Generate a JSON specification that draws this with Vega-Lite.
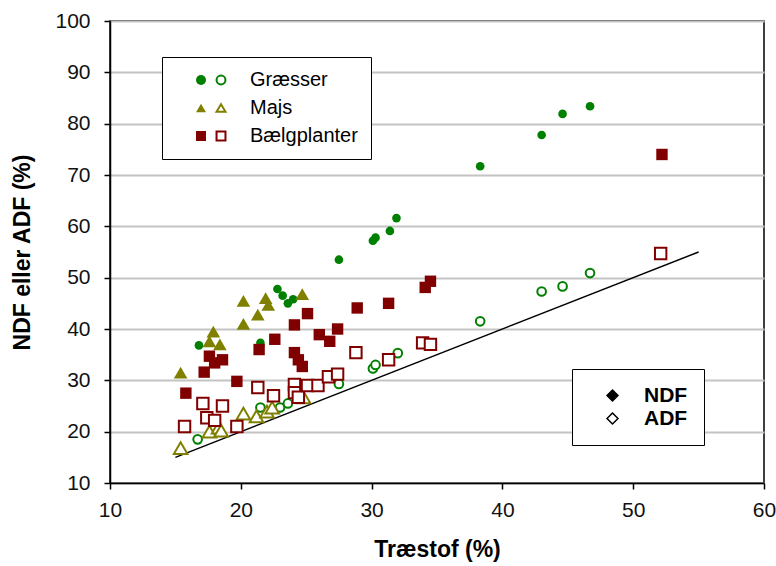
{
  "$schema": "https://vega.github.io/schema/vega-lite/v6.json",
  "width": 654,
  "height": 462,
  "autosize": "none",
  "padding": {"left": 110, "top": 21, "right": 12, "bottom": 83},
  "background": "white",
  "config": {
    "font": "Liberation Sans",
    "view": {"stroke": "#000", "strokeWidth": 1.5},
    "axis": {
      "labelFont": "Liberation Sans",
      "labelFontSize": 21,
      "labelColor": "#111",
      "titleFont": "Liberation Sans",
      "titleFontSize": 23,
      "titleFontWeight": "bold",
      "titleColor": "#000",
      "tickColor": "#000",
      "tickSize": 6,
      "tickWidth": 1.5,
      "domainColor": "#000",
      "domainWidth": 1.5,
      "labelFlush": false,
      "labelOverlap": false
    },
    "legend": {"labelFont": "Liberation Sans", "symbolBaseFillColor": "#fff"}
  },
  "datasets": {
    "linje": [
      {"Træstof": 15, "Værdi": 15},
      {"Træstof": 55, "Værdi": 55}
    ],
    "punkter": [
      {"Træstof": 16.8, "Værdi": 36.8, "Gruppe": "Græsser", "Type": "NDF"},
      {"Træstof": 21.5, "Værdi": 37.3, "Gruppe": "Græsser", "Type": "NDF"},
      {"Træstof": 22.8, "Værdi": 47.8, "Gruppe": "Græsser", "Type": "NDF"},
      {"Træstof": 23.2, "Værdi": 46.5, "Gruppe": "Græsser", "Type": "NDF"},
      {"Træstof": 23.6, "Værdi": 45.0, "Gruppe": "Græsser", "Type": "NDF"},
      {"Træstof": 24.0, "Værdi": 45.8, "Gruppe": "Græsser", "Type": "NDF"},
      {"Træstof": 27.5, "Værdi": 53.5, "Gruppe": "Græsser", "Type": "NDF"},
      {"Træstof": 30.1, "Værdi": 57.2, "Gruppe": "Græsser", "Type": "NDF"},
      {"Træstof": 30.3, "Værdi": 57.8, "Gruppe": "Græsser", "Type": "NDF"},
      {"Træstof": 31.4, "Værdi": 59.1, "Gruppe": "Græsser", "Type": "NDF"},
      {"Træstof": 31.9, "Værdi": 61.6, "Gruppe": "Græsser", "Type": "NDF"},
      {"Træstof": 38.3, "Værdi": 71.7, "Gruppe": "Græsser", "Type": "NDF"},
      {"Træstof": 43.0, "Værdi": 77.8, "Gruppe": "Græsser", "Type": "NDF"},
      {"Træstof": 44.6, "Værdi": 81.9, "Gruppe": "Græsser", "Type": "NDF"},
      {"Træstof": 46.7, "Værdi": 83.4, "Gruppe": "Græsser", "Type": "NDF"},
      {"Træstof": 16.7, "Værdi": 18.5, "Gruppe": "Græsser", "Type": "ADF"},
      {"Træstof": 21.5, "Værdi": 24.7, "Gruppe": "Græsser", "Type": "ADF"},
      {"Træstof": 23.0, "Værdi": 24.7, "Gruppe": "Græsser", "Type": "ADF"},
      {"Træstof": 23.6, "Værdi": 25.5, "Gruppe": "Græsser", "Type": "ADF"},
      {"Træstof": 27.5, "Værdi": 29.3, "Gruppe": "Græsser", "Type": "ADF"},
      {"Træstof": 30.1, "Værdi": 32.3, "Gruppe": "Græsser", "Type": "ADF"},
      {"Træstof": 30.3, "Værdi": 33.0, "Gruppe": "Græsser", "Type": "ADF"},
      {"Træstof": 32.0, "Værdi": 35.3, "Gruppe": "Græsser", "Type": "ADF"},
      {"Træstof": 38.3, "Værdi": 41.5, "Gruppe": "Græsser", "Type": "ADF"},
      {"Træstof": 43.0, "Værdi": 47.3, "Gruppe": "Græsser", "Type": "ADF"},
      {"Træstof": 44.6, "Værdi": 48.3, "Gruppe": "Græsser", "Type": "ADF"},
      {"Træstof": 46.7, "Værdi": 50.9, "Gruppe": "Græsser", "Type": "ADF"},
      {"Træstof": 15.4, "Værdi": 31.5, "Gruppe": "Majs", "Type": "NDF"},
      {"Træstof": 17.9, "Værdi": 39.5, "Gruppe": "Majs", "Type": "NDF"},
      {"Træstof": 17.6, "Værdi": 37.6, "Gruppe": "Majs", "Type": "NDF"},
      {"Træstof": 18.4, "Værdi": 37.0, "Gruppe": "Majs", "Type": "NDF"},
      {"Træstof": 20.2, "Værdi": 45.5, "Gruppe": "Majs", "Type": "NDF"},
      {"Træstof": 21.9, "Værdi": 46.0, "Gruppe": "Majs", "Type": "NDF"},
      {"Træstof": 22.1, "Værdi": 44.7, "Gruppe": "Majs", "Type": "NDF"},
      {"Træstof": 21.3, "Værdi": 42.8, "Gruppe": "Majs", "Type": "NDF"},
      {"Træstof": 20.2, "Værdi": 41.0, "Gruppe": "Majs", "Type": "NDF"},
      {"Træstof": 24.7, "Værdi": 46.8, "Gruppe": "Majs", "Type": "NDF"},
      {"Træstof": 15.4, "Værdi": 16.8, "Gruppe": "Majs", "Type": "ADF"},
      {"Træstof": 17.6, "Værdi": 20.0, "Gruppe": "Majs", "Type": "ADF"},
      {"Træstof": 18.3, "Værdi": 20.8, "Gruppe": "Majs", "Type": "ADF"},
      {"Træstof": 18.5, "Værdi": 20.2, "Gruppe": "Majs", "Type": "ADF"},
      {"Træstof": 20.2, "Værdi": 23.5, "Gruppe": "Majs", "Type": "ADF"},
      {"Træstof": 21.2, "Værdi": 23.0, "Gruppe": "Majs", "Type": "ADF"},
      {"Træstof": 22.0, "Værdi": 23.9, "Gruppe": "Majs", "Type": "ADF"},
      {"Træstof": 22.4, "Værdi": 24.7, "Gruppe": "Majs", "Type": "ADF"},
      {"Træstof": 24.8, "Værdi": 26.7, "Gruppe": "Majs", "Type": "ADF"},
      {"Træstof": 15.8, "Værdi": 27.5, "Gruppe": "Bælgplanter", "Type": "NDF"},
      {"Træstof": 17.6, "Værdi": 34.7, "Gruppe": "Bælgplanter", "Type": "NDF"},
      {"Træstof": 18.0, "Værdi": 33.4, "Gruppe": "Bælgplanter", "Type": "NDF"},
      {"Træstof": 18.6, "Værdi": 34.0, "Gruppe": "Bælgplanter", "Type": "NDF"},
      {"Træstof": 17.2, "Værdi": 31.6, "Gruppe": "Bælgplanter", "Type": "NDF"},
      {"Træstof": 19.7, "Værdi": 29.8, "Gruppe": "Bælgplanter", "Type": "NDF"},
      {"Træstof": 21.4, "Værdi": 36.0, "Gruppe": "Bælgplanter", "Type": "NDF"},
      {"Træstof": 22.6, "Værdi": 38.0, "Gruppe": "Bælgplanter", "Type": "NDF"},
      {"Træstof": 24.1, "Værdi": 40.8, "Gruppe": "Bælgplanter", "Type": "NDF"},
      {"Træstof": 25.1, "Værdi": 43.0, "Gruppe": "Bælgplanter", "Type": "NDF"},
      {"Træstof": 24.1, "Værdi": 35.4, "Gruppe": "Bælgplanter", "Type": "NDF"},
      {"Træstof": 24.4, "Værdi": 34.0, "Gruppe": "Bælgplanter", "Type": "NDF"},
      {"Træstof": 24.7, "Værdi": 32.7, "Gruppe": "Bælgplanter", "Type": "NDF"},
      {"Træstof": 26.0, "Værdi": 38.9, "Gruppe": "Bælgplanter", "Type": "NDF"},
      {"Træstof": 26.8, "Værdi": 37.6, "Gruppe": "Bælgplanter", "Type": "NDF"},
      {"Træstof": 27.4, "Værdi": 40.0, "Gruppe": "Bælgplanter", "Type": "NDF"},
      {"Træstof": 28.9, "Værdi": 44.1, "Gruppe": "Bælgplanter", "Type": "NDF"},
      {"Træstof": 31.3, "Værdi": 45.0, "Gruppe": "Bælgplanter", "Type": "NDF"},
      {"Træstof": 34.1, "Værdi": 48.1, "Gruppe": "Bælgplanter", "Type": "NDF"},
      {"Træstof": 34.5, "Værdi": 49.3, "Gruppe": "Bælgplanter", "Type": "NDF"},
      {"Træstof": 52.2, "Værdi": 74.0, "Gruppe": "Bælgplanter", "Type": "NDF"},
      {"Træstof": 15.7, "Værdi": 21.0, "Gruppe": "Bælgplanter", "Type": "ADF"},
      {"Træstof": 17.1, "Værdi": 25.5, "Gruppe": "Bælgplanter", "Type": "ADF"},
      {"Træstof": 18.6, "Værdi": 25.0, "Gruppe": "Bælgplanter", "Type": "ADF"},
      {"Træstof": 17.4, "Værdi": 22.7, "Gruppe": "Bælgplanter", "Type": "ADF"},
      {"Træstof": 18.0, "Værdi": 22.2, "Gruppe": "Bælgplanter", "Type": "ADF"},
      {"Træstof": 19.7, "Værdi": 21.0, "Gruppe": "Bælgplanter", "Type": "ADF"},
      {"Træstof": 21.3, "Værdi": 28.6, "Gruppe": "Bælgplanter", "Type": "ADF"},
      {"Træstof": 22.5, "Værdi": 27.0, "Gruppe": "Bælgplanter", "Type": "ADF"},
      {"Træstof": 24.1, "Værdi": 29.2, "Gruppe": "Bælgplanter", "Type": "ADF"},
      {"Træstof": 24.1, "Værdi": 27.6, "Gruppe": "Bælgplanter", "Type": "ADF"},
      {"Træstof": 24.4, "Værdi": 26.7, "Gruppe": "Bælgplanter", "Type": "ADF"},
      {"Træstof": 25.1, "Værdi": 29.0, "Gruppe": "Bælgplanter", "Type": "ADF"},
      {"Træstof": 25.9, "Værdi": 29.0, "Gruppe": "Bælgplanter", "Type": "ADF"},
      {"Træstof": 26.7, "Værdi": 30.7, "Gruppe": "Bælgplanter", "Type": "ADF"},
      {"Træstof": 27.4, "Værdi": 31.2, "Gruppe": "Bælgplanter", "Type": "ADF"},
      {"Træstof": 28.8, "Værdi": 35.4, "Gruppe": "Bælgplanter", "Type": "ADF"},
      {"Træstof": 31.3, "Værdi": 34.0, "Gruppe": "Bælgplanter", "Type": "ADF"},
      {"Træstof": 33.9, "Værdi": 37.3, "Gruppe": "Bælgplanter", "Type": "ADF"},
      {"Træstof": 34.5, "Værdi": 37.0, "Gruppe": "Bælgplanter", "Type": "ADF"},
      {"Træstof": 52.1, "Værdi": 54.7, "Gruppe": "Bælgplanter", "Type": "ADF"}
    ]
  },
  "encoding": {
    "x": {
      "field": "Træstof",
      "type": "quantitative",
      "scale": {"domain": [10, 60], "nice": false, "zero": false},
      "axis": {"values": [10, 20, 30, 40, 50, 60], "title": "Træstof (%)", "grid": false, "labelPadding": 10, "titlePadding": 18}
    },
    "y": {
      "field": "Værdi",
      "type": "quantitative",
      "scale": {"domain": [10, 100], "nice": false, "zero": false},
      "axis": {"values": [10, 20, 30, 40, 50, 60, 70, 80, 90, 100], "title": "NDF eller ADF (%)", "grid": true, "gridColor": "#c4c4c4", "gridWidth": 2, "labelPadding": 14, "titlePadding": 20}
    }
  },
  "layer": [
    {
      "data": {"name": "linje"},
      "mark": {"type": "line", "color": "#000", "strokeWidth": 1.5}
    },
    {
      "data": {"name": "punkter"},
      "transform": [{"filter": "datum.Type === 'NDF'"}],
      "mark": {"type": "point", "filled": true, "opacity": 1},
      "encoding": {
        "fill": {
          "field": "Gruppe",
          "type": "nominal",
          "scale": {"domain": ["Græsser", "Majs", "Bælgplanter"], "range": ["#008000", "#808000", "#800000"]},
          "legend": {
            "title": null,
            "orient": "none",
            "legendX": 52,
            "legendY": 36,
            "padding": 13,
            "rowPadding": 8,
            "symbolSize": 100,
            "symbolOffset": 16,
            "labelOffset": 39,
            "labelFontSize": 20,
            "labelColor": "#000",
            "strokeColor": "#000",
            "fillColor": "#fff"
          }
        },
        "shape": {
          "field": "Gruppe",
          "type": "nominal",
          "scale": {"domain": ["Græsser", "Majs", "Bælgplanter"], "range": ["circle", "triangle-up", "square"]},
          "legend": {"title": null}
        },
        "size": {
          "field": "Gruppe",
          "type": "nominal",
          "scale": {"domain": ["Græsser", "Bælgplanter", "Majs"], "range": [75, 185]},
          "legend": null
        }
      }
    },
    {
      "data": {"name": "punkter"},
      "transform": [{"filter": "datum.Type === 'ADF'"}],
      "mark": {"type": "point", "strokeWidth": 2, "opacity": 1},
      "encoding": {
        "stroke": {
          "field": "Gruppe",
          "type": "nominal",
          "scale": {"domain": ["Græsser", "Majs", "Bælgplanter"], "range": ["#008000", "#808000", "#800000"]},
          "legend": {
            "title": null,
            "orient": "none",
            "legendX": 72,
            "legendY": 36,
            "padding": 13,
            "rowPadding": 8,
            "symbolSize": 80,
            "symbolStrokeWidth": 2,
            "symbolFillColor": "#fff",
            "symbolOffset": 16,
            "labelOffset": 39,
            "labelFontSize": 20,
            "labelExpr": "' '",
            "zindex": 1
          }
        },
        "shape": {
          "field": "Gruppe",
          "type": "nominal",
          "scale": {"domain": ["Græsser", "Majs", "Bælgplanter"], "range": ["circle", "triangle-up", "square"]},
          "legend": {"title": null}
        },
        "size": {
          "field": "Gruppe",
          "type": "nominal",
          "scale": {"domain": ["Græsser", "Bælgplanter", "Majs"], "range": [75, 185]},
          "legend": null
        },
        "fill": {
          "field": "Type",
          "type": "nominal",
          "scale": {"domain": ["NDF", "ADF"], "range": ["#000", "#fff"]},
          "legend": {
            "title": null,
            "orient": "none",
            "legendX": 462,
            "legendY": 348,
            "padding": 16,
            "rowPadding": 1,
            "symbolType": "diamond",
            "symbolSize": 120,
            "symbolStrokeColor": "#000",
            "symbolStrokeWidth": 1.5,
            "symbolOpacity": 1,
            "symbolOffset": 14,
            "labelOffset": 21,
            "labelFontSize": 21,
            "labelFontWeight": "bold",
            "labelColor": "#000",
            "strokeColor": "#000",
            "fillColor": "#fff"
          }
        }
      }
    }
  ],
  "resolve": {
    "scale": {"fill": "independent", "stroke": "independent", "shape": "independent"},
    "legend": {"fill": "independent", "stroke": "independent", "shape": "independent"}
  }
}
